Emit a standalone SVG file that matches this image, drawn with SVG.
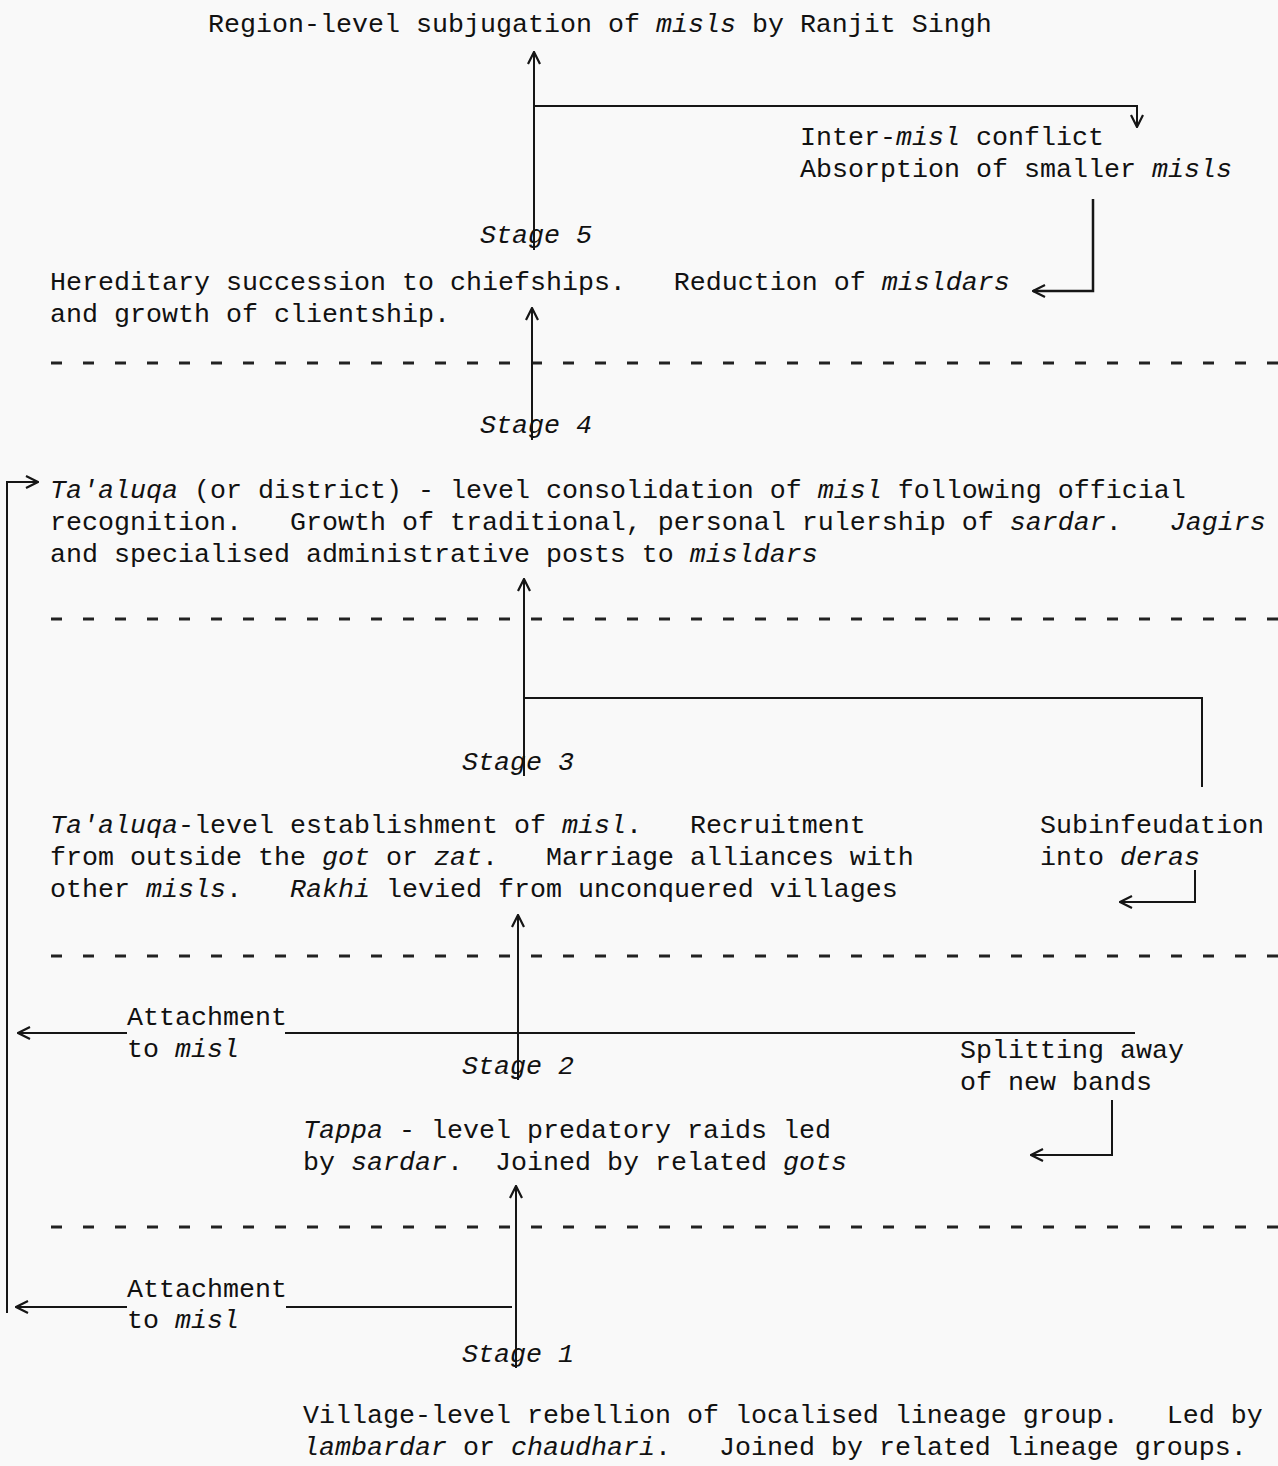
<svg xmlns="http://www.w3.org/2000/svg" width="1278" height="1466" viewBox="0 0 1278 1466">
<style>
text{font-family:"Liberation Mono","DejaVu Sans Mono",monospace;font-size:26.67px;fill:#111;white-space:pre}
.i{font-style:italic}
.c{fill:none;stroke:#161616;stroke-width:2}
.d{fill:none;stroke:#222;stroke-width:3;stroke-dasharray:11 21}
</style>
<defs>
<marker id="ah" viewBox="0 0 14 14" refX="13" refY="7" markerWidth="14" markerHeight="14" markerUnits="userSpaceOnUse" orient="auto">
<path d="M1,1 L13,7 L1,13" fill="none" stroke="#161616" stroke-width="2.2"/>
</marker>
</defs>
<rect width="1278" height="1466" fill="#f9f9f9"/>
<g id="dividers">
<line class="d" x1="51" y1="363" x2="1278" y2="363"/>
<line class="d" x1="51" y1="619" x2="1278" y2="619"/>
<line class="d" x1="51" y1="956" x2="1278" y2="956"/>
<line class="d" x1="51" y1="1227" x2="1278" y2="1227"/>
</g>
<g id="connectors">
<path class="c" d="M534,250 V52" marker-end="url(#ah)"/>
<path class="c" d="M534,106 H1137 V127" marker-end="url(#ah)"/>
<path class="c" d="M1093,199 V291 H1033" marker-end="url(#ah)" style="stroke-width:2.5"/>
<path class="c" d="M532,440 V308" marker-end="url(#ah)"/>
<path class="c" d="M524,776 V579" marker-end="url(#ah)"/>
<path class="c" d="M524,698 H1202 V787"/>
<path class="c" d="M1195,870 V902 H1120" marker-end="url(#ah)"/>
<path class="c" d="M518,1080 V915" marker-end="url(#ah)"/>
<path class="c" d="M285,1033 H1135"/>
<path class="c" d="M127,1033 H18" marker-end="url(#ah)"/>
<path class="c" d="M1112,1100 V1155 H1031" marker-end="url(#ah)"/>
<path class="c" d="M516,1368 V1186" marker-end="url(#ah)"/>
<path class="c" d="M286,1307 H512"/>
<path class="c" d="M127,1307 H16" marker-end="url(#ah)"/>
<path class="c" d="M7,1313 V482 H38" marker-end="url(#ah)"/>
</g>
<g id="n-top"><text x="208" y="32">Region-level subjugation of <tspan class="i">misls</tspan> by Ranjit Singh</text></g>
<g id="n-inter">
<text x="800" y="145">Inter-<tspan class="i">misl</tspan> conflict</text>
<text x="800" y="177">Absorption of smaller <tspan class="i">misls</tspan></text>
</g>
<g id="stage5"><text class="i" x="480" y="243">Stage 5</text></g>
<g id="n-stage5">
<text x="50" y="290">Hereditary succession to chiefships.   Reduction of <tspan class="i">misldars</tspan></text>
<text x="50" y="322">and growth of clientship.</text>
</g>
<g id="stage4"><text class="i" x="480" y="433">Stage 4</text></g>
<g id="n-stage4">
<text x="50" y="498"><tspan class="i">Ta'aluqa</tspan> (or district) - level consolidation of <tspan class="i">misl</tspan> following official</text>
<text x="50" y="530">recognition.   Growth of traditional, personal rulership of <tspan class="i">sardar</tspan>.   <tspan class="i">Jagirs</tspan></text>
<text x="50" y="562">and specialised administrative posts to <tspan class="i">misldars</tspan></text>
</g>
<g id="stage3"><text class="i" x="462" y="770">Stage 3</text></g>
<g id="n-stage3">
<text x="50" y="833"><tspan class="i">Ta'aluqa</tspan>-level establishment of <tspan class="i">misl</tspan>.   Recruitment</text>
<text x="50" y="865">from outside the <tspan class="i">got</tspan> or <tspan class="i">zat</tspan>.   Marriage alliances with</text>
<text x="50" y="897">other <tspan class="i">misls</tspan>.   <tspan class="i">Rakhi</tspan> levied from unconquered villages</text>
</g>
<g id="n-subinfeudation">
<text x="1040" y="833">Subinfeudation</text>
<text x="1040" y="865">into <tspan class="i">deras</tspan></text>
</g>
<g id="n-attachment2">
<text x="127" y="1025">Attachment</text>
<text x="127" y="1057">to <tspan class="i">misl</tspan></text>
</g>
<g id="stage2"><text class="i" x="462" y="1074">Stage 2</text></g>
<g id="n-splitting">
<text x="960" y="1058">Splitting away</text>
<text x="960" y="1090">of new bands</text>
</g>
<g id="n-stage2">
<text x="303" y="1138"><tspan class="i">Tappa</tspan> - level predatory raids led</text>
<text x="303" y="1170">by <tspan class="i">sardar</tspan>.  Joined by related <tspan class="i">gots</tspan></text>
</g>
<g id="n-attachment1">
<text x="127" y="1297">Attachment</text>
<text x="127" y="1328">to <tspan class="i">misl</tspan></text>
</g>
<g id="stage1"><text class="i" x="462" y="1362">Stage 1</text></g>
<g id="n-stage1">
<text x="303" y="1423">Village-level rebellion of localised lineage group.   Led by</text>
<text x="303" y="1455"><tspan class="i">lambardar</tspan> or <tspan class="i">chaudhari</tspan>.   Joined by related lineage groups.</text>
</g>
</svg>
